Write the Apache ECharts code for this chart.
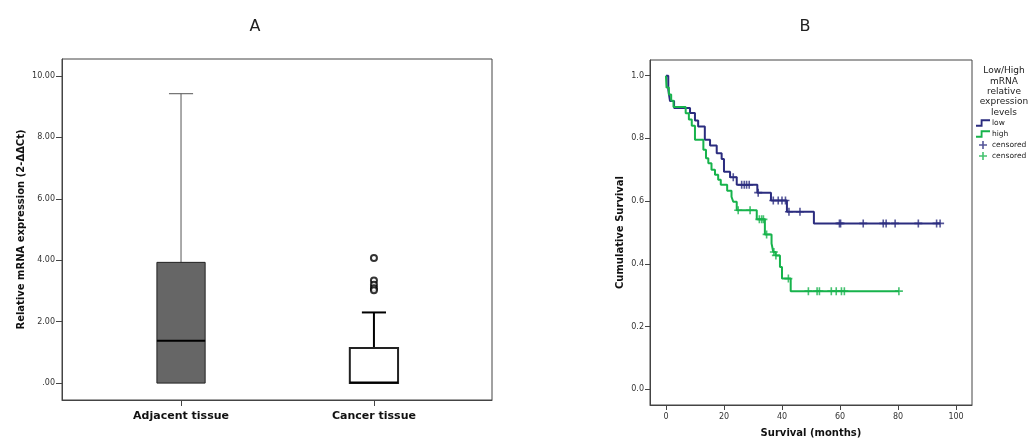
<!DOCTYPE html>
<html>
<head>
	<meta charset="utf-8" />
	<title>mRNA expression and survival</title>
	<style>
		* { margin: 0; padding: 0; }
		body { background: #fff; }
		#main { width: 1033px; height: 438px; }
	</style>
</head>
<body>
	<div id="main"></div>
	<script src="https://cdn.jsdelivr.net/npm/echarts@6/dist/echarts.min.js"></script>
	<script type="text/javascript">
	// ---- A: box plot ----
	var categories = ['Adjacent tissue', 'Cancer tissue'];
	// [min, Q1, median, Q3, max]
	var boxStats = [
		[0, 0, 1.38, 3.93, 9.42],
		[0, 0, 0.02, 1.14, 2.3]
	];
	var outlierGroup = [2, 2, 2, 2, 2];
	var outlierValues = [4.07, 3.34, 3.2, 3.09, 3.02];
	var boxTicks = [0, 2, 4, 6, 8, 10];

	// ---- B: Kaplan-Meier ----
	var lowTimes = [0.8, 1.4, 2.8, 8.3, 10, 11.1, 13.4, 15.2, 17.5, 19.2, 20, 22.1, 24.4, 31.5, 36.2, 41.7, 51];
	var lowSurv = [0.956, 0.919, 0.897, 0.881, 0.857, 0.838, 0.796, 0.777, 0.753, 0.734, 0.694, 0.676, 0.652, 0.627, 0.602, 0.566, 0.529];
	var lowCensor = [23.2, 26.1, 27, 27.8, 28.7, 31.8, 37, 38.7, 40, 41.2, 42.4, 46.2, 59.8, 60.2, 68, 74.9, 75.9, 79, 87, 93.3, 94.5];
	var lowEnd = 94.5;

	var highTimes = [0.2, 1, 1.8, 2.6, 6.8, 7.9, 8.9, 10, 12.9, 13.8, 14.6, 15.7, 16.9, 18, 18.9, 21.1, 22.6, 23.2, 24.4, 31.3, 34.1, 36.4, 37, 37.8, 39.3, 40, 43];
	var highSurv = [0.962, 0.94, 0.92, 0.9, 0.88, 0.86, 0.84, 0.796, 0.764, 0.737, 0.721, 0.7, 0.684, 0.668, 0.652, 0.633, 0.614, 0.598, 0.571, 0.542, 0.494, 0.465, 0.438, 0.427, 0.39, 0.353, 0.313];
	var highCensor = [24.9, 29, 32.2, 33, 33.6, 34.7, 37.2, 37.9, 42.2, 49.1, 52.1, 52.9, 57, 58.7, 60.5, 61.5, 80.3];
	var highEnd = 80.3;

	var monthTicks = [0, 20, 40, 60, 80, 100];
	var survTicks = [0, 0.2, 0.4, 0.6, 0.8, 1.0];

	var navy = '#2b2c7f';
	var green = '#17b34c';
	var plusIcon = 'path://M4,0H6V4H10V6H6V10H4V6H0V4H4Z';
	var stepIcon = 'path://M0,6H5V0H15V2H7V8H0Z';

	function stepLine(times, surv, end) {
		var pts = [[0, 1]];
		for (var i = 0; i < times.length; i++) pts.push([times[i], surv[i]]);
		pts.push([end, surv[surv.length - 1]]);
		return pts;
	}
	function censorPoints(times, surv, cens) {
		return cens.map(function (t) {
			var s = 1;
			for (var i = 0; i < times.length; i++) if (times[i] <= t) s = surv[i];
			return [t, s];
		});
	}

	var boxFill = ['#666666', '#ffffff'];
	var boxBorder = [1, 2];
	var whiskerColor = ['#555555', '#000000'];

	function renderBox(params, api) {
		var idx = params.dataIndex;
		var x = api.value(0);
		var v = [api.value(1), api.value(2), api.value(3), api.value(4), api.value(5)];
		var half = api.size([0.125, 0])[0];
		var cap = half / 2;
		var pMin = api.coord([x, v[0]]);
		var pQ1 = api.coord([x, v[1]]);
		var pMed = api.coord([x, v[2]]);
		var pQ3 = api.coord([x, v[3]]);
		var pMax = api.coord([x, v[4]]);
		var lw = boxBorder[idx];
		var wl = { stroke: whiskerColor[idx], lineWidth: lw };
		return {
			type: 'group',
			children: [
				{ type: 'line', shape: { x1: pMax[0], y1: pMax[1], x2: pQ3[0], y2: pQ3[1] }, style: wl },
				{ type: 'line', shape: { x1: pMax[0] - cap, y1: pMax[1], x2: pMax[0] + cap, y2: pMax[1] }, style: wl },
				{ type: 'line', shape: { x1: pQ1[0], y1: pQ1[1], x2: pMin[0], y2: pMin[1] }, style: wl },
				{
					type: 'rect',
					shape: { x: pQ3[0] - half, y: pQ3[1], width: half * 2, height: pQ1[1] - pQ3[1] },
					style: { fill: boxFill[idx], stroke: '#222', lineWidth: lw }
				},
				{ type: 'line', shape: { x1: pMed[0] - half, y1: pMed[1], x2: pMed[0] + half, y2: pMed[1] }, style: { stroke: '#000', lineWidth: 2 } }
			]
		};
	}

	var tickFont = { fontSize: 8, color: '#333', fontFamily: 'DejaVu Sans' };
	var nameFont = { fontSize: 10, fontWeight: 'bold', color: '#111', fontFamily: 'DejaVu Sans' };
	var axisLineStyle = { onZero: false, lineStyle: { color: '#444' } };

	var chart = echarts.init(document.getElementById('main'), null, { renderer: 'canvas' });
	var option = {
		animation: false,
		backgroundColor: '#fff',
		title: [
			{ text: 'A', left: 250, top: 14, textAlign: 'center', textStyle: { fontSize: 16, fontWeight: 'normal', color: '#222', fontFamily: 'DejaVu Sans' } },
			{ text: 'B', left: 800, top: 14, textAlign: 'center', textStyle: { fontSize: 16, fontWeight: 'normal', color: '#222', fontFamily: 'DejaVu Sans' } },
			{
				text: 'Low/High\nmRNA\nrelative\nexpression\nlevels', left: 999, top: 61, textAlign: 'center',
				textStyle: { fontSize: 9, fontWeight: 'normal', color: '#222', lineHeight: 10.3, fontFamily: 'DejaVu Sans' }
			}
		],
		legend: {
			orient: 'vertical',
			left: 976,
			top: 119,
			padding: 0,
			itemWidth: 14,
			itemHeight: 8,
			itemGap: 3,
			textStyle: { fontSize: 7.5, color: '#222', fontFamily: 'DejaVu Sans', padding: [0, 0, 0, -3] },
			formatter: function (name) { return name.indexOf('censored') >= 0 ? 'censored' : name; },
			data: [
				{ name: 'low', icon: stepIcon },
				{ name: 'high', icon: stepIcon },
				{ name: 'low censored', icon: plusIcon },
				{ name: 'high censored', icon: plusIcon }
			]
		},
		grid: [
			{ left: 62, top: 59, width: 430, height: 341, show: true, borderColor: '#444', borderWidth: 1, outerBoundsMode: 'none', containLabel: false },
			{ left: 650, top: 60, width: 322, height: 345, show: true, borderColor: '#444', borderWidth: 1, outerBoundsMode: 'none', containLabel: false }
		],
		xAxis: [
			{
				type: 'value', gridIndex: 0, min: 0.383, max: 2.612,
				axisLine: axisLineStyle,
				splitLine: { show: false },
				axisTick: { customValues: [1, 2], length: 6, lineStyle: { color: '#444' } },
				axisLabel: {
					customValues: [1, 2], margin: 11,
					fontSize: 11, fontWeight: 'bold', color: '#111', fontFamily: 'DejaVu Sans',
					formatter: function (v) { return categories[Math.round(v) - 1]; }
				}
			},
			{
				type: 'value', gridIndex: 1, min: -5.5, max: 105.5,
				name: 'Survival (months)', nameLocation: 'middle', nameGap: 23, nameTextStyle: nameFont,
				axisLine: axisLineStyle,
				splitLine: { show: false },
				axisTick: { customValues: monthTicks, length: 5, lineStyle: { color: '#444' } },
				axisLabel: { customValues: monthTicks, margin: 8, fontSize: 8, color: '#333', fontFamily: 'DejaVu Sans' }
			}
		],
		yAxis: [
			{
				type: 'value', gridIndex: 0, min: -0.55, max: 10.55,
				name: 'Relative mRNA expression (2-ΔΔCt)', nameLocation: 'middle', nameGap: 36, nameTextStyle: nameFont,
				axisLine: axisLineStyle,
				splitLine: { show: false },
				axisTick: { customValues: boxTicks, length: 6, lineStyle: { color: '#444' } },
				axisLabel: Object.assign({
					customValues: boxTicks, margin: 7,
					formatter: function (v) { return v === 0 ? '.00' : v.toFixed(2); }
				}, tickFont)
			},
			{
				type: 'value', gridIndex: 1, min: -0.05, max: 1.05,
				name: 'Cumulative Survival', nameLocation: 'middle', nameGap: 25, nameTextStyle: nameFont,
				axisLine: axisLineStyle,
				splitLine: { show: false },
				axisTick: { customValues: survTicks, length: 5, lineStyle: { color: '#444' } },
				axisLabel: Object.assign({
					customValues: survTicks, margin: 6,
					formatter: function (v) { return v.toFixed(1); }
				}, tickFont)
			}
		],
		series: [
			{
				name: 'box', type: 'custom', xAxisIndex: 0, yAxisIndex: 0,
				renderItem: renderBox,
				encode: { x: 0, y: [1, 2, 3, 4, 5] },
				data: boxStats.map(function (s, i) { return [i + 1].concat(s); })
			},
			{
				name: 'outliers', type: 'scatter', xAxisIndex: 0, yAxisIndex: 0,
				symbol: 'circle', symbolSize: 6,
				itemStyle: { color: '#fff', borderColor: '#000', borderWidth: 2 },
				data: outlierValues.map(function (v, i) { return [outlierGroup[i], v]; })
			},
			{
				name: 'low', type: 'line', xAxisIndex: 1, yAxisIndex: 1, step: 'end',
				showSymbol: false, color: navy, lineStyle: { width: 2, color: navy },
				data: stepLine(lowTimes, lowSurv, lowEnd)
			},
			{
				name: 'high', type: 'line', xAxisIndex: 1, yAxisIndex: 1, step: 'end',
				showSymbol: false, color: green, lineStyle: { width: 2, color: green },
				data: stepLine(highTimes, highSurv, highEnd)
			},
			{
				name: 'low censored', type: 'scatter', xAxisIndex: 1, yAxisIndex: 1,
				symbol: plusIcon, symbolSize: 8, itemStyle: { color: navy },
				data: censorPoints(lowTimes, lowSurv, lowCensor)
			},
			{
				name: 'high censored', type: 'scatter', xAxisIndex: 1, yAxisIndex: 1,
				symbol: plusIcon, symbolSize: 8, itemStyle: { color: green },
				data: censorPoints(highTimes, highSurv, highCensor)
			}
		]
	};
	chart.setOption(option);
	</script>
</body>
</html>
